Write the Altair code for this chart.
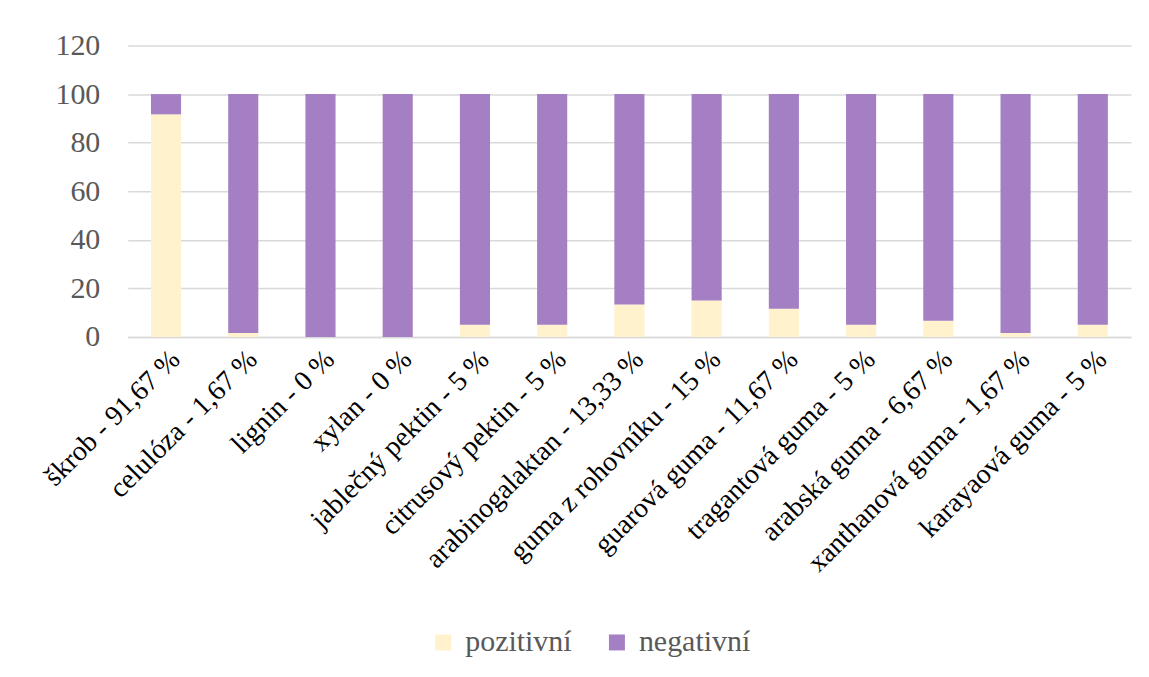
import altair as alt
import pandas as pd

categories = ["škrob - 91,67 %", "celulóza - 1,67 %", "lignin - 0 %", "xylan - 0 %",
              "jablečný pektin - 5 %", "citrusový pektin - 5 %", "arabinogalaktan - 13,33 %",
              "guma z rohovníku - 15 %", "guarová guma - 11,67 %", "tragantová guma - 5 %",
              "arabská guma - 6,67 %", "xanthanová guma - 1,67 %", "karayaová guma - 5 %"]
pozitivni = [91.67, 1.67, 0, 0, 5, 5, 13.33, 15, 11.67, 5, 6.67, 1.67, 5]
negativni = [round(100 - p, 2) for p in pozitivni]
series = ["pozitivní", "negativní"]
colors = ["#FFF2CC", "#A57FC3"]

rows = []
for c, p, n in zip(categories, pozitivni, negativni):
    rows.append({"kategorie": c, "serie": "pozitivní", "hodnota": p, "poradi": 0})
    rows.append({"kategorie": c, "serie": "negativní", "hodnota": n, "poradi": 1})
df = pd.DataFrame(rows)

font = "Liberation Serif"

chart = alt.Chart(df).mark_bar().encode(
    x=alt.X("kategorie:N", sort=categories, title=None,
            scale=alt.Scale(paddingInner=0.61, paddingOuter=0.3),
            axis=alt.Axis(labelAngle=-45, labelFontSize=28, labelColor="#000000",
                          labelFont=font, ticks=False, domainColor="#D9D9D9",
                          domainWidth=1.5, labelPadding=8, labelLimit=500)),
    y=alt.Y("hodnota:Q", stack="zero", title=None,
            scale=alt.Scale(domain=[0, 120]),
            axis=alt.Axis(values=[0, 20, 40, 60, 80, 100, 120], labelFontSize=30,
                          labelColor="#595959", labelFont=font, domain=False, ticks=False,
                          gridColor="#D9D9D9", gridWidth=1.5, labelPadding=28)),
    color=alt.Color("serie:N", sort=series,
                    scale=alt.Scale(domain=series, range=colors),
                    legend=alt.Legend(title=None, orient="none", direction="horizontal",
                                      legendX=301, legendY=583, symbolType="square",
                                      symbolSize=256, symbolStrokeWidth=0,
                                      labelFontSize=30, labelFont=font,
                                      labelColor="#595959", columnPadding=30,
                                      labelOffset=7, symbolOpacity=1)),
    order=alt.Order("poradi:Q", sort="ascending"),
).properties(
    width=1005, height=292, background="#FFFFFF",
    padding={"left": 31, "top": 22, "right": 10, "bottom": 10}
).configure_view(stroke=None)

chart.save("out.html", embed_options={"renderer": "svg", "actions": False})
